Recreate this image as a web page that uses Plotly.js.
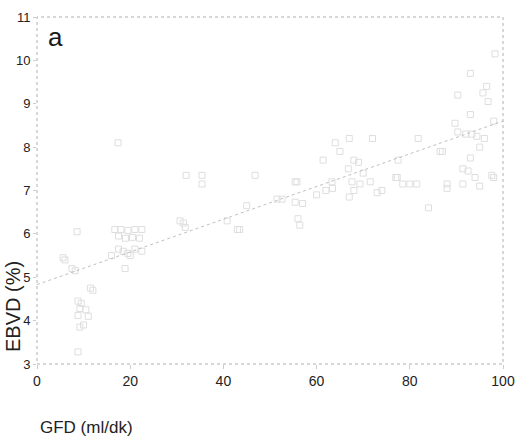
<!DOCTYPE html>
<html>
<head>
<meta charset="utf-8">
<script src="https://cdn.plot.ly/plotly-3.0.1.min.js"></script>
<style>html,body{margin:0;padding:0;background:#fff;}#chart{width:515px;height:444px;}</style>
</head>
<body>
<div id="chart"></div>
<script>
// GFD (ml/dk) values
const gfd = [
  5.6, 6.0, 7.5, 8.2, 8.6, 12.0, 11.5, 8.8, 9.5, 9.2, 10.5, 8.8, 11.0, 9.2, 10.0, 8.8,
  16.7, 18.0, 19.5, 21.0, 22.5, 17.5, 19.0, 20.5, 22.0, 17.4, 17.5, 18.5, 19.5, 21.0, 22.5, 18.9, 20.0, 16.0,
  31.4, 32.0, 35.4, 35.4, 30.7, 31.8, 40.8, 43.0, 43.5, 45.0, 46.8, 51.5, 52.6,
  55.4, 55.4, 57.0, 56.4, 56.0, 61.4, 63.4, 64.0, 65.0, 66.8, 67.0, 67.0, 67.6, 69.0, 69.3, 71.5, 72.0, 73.0, 77.0, 68.0, 70.0, 62.0, 60.0, 68.0, 74.0, 63.3, 55.8,
  77.3, 78.5, 80.0, 81.5, 81.8, 84.0, 86.5, 88.0, 88.0, 89.7, 90.3, 90.3, 91.4, 91.4, 92.5, 93.0, 93.0, 93.0, 93.3, 94.4, 95.0, 95.7, 96.0, 96.5, 96.8, 98.0, 98.0, 98.3, 92.0, 94.0, 95.0, 77.5, 87.0, 97.6
];
// EBVD (%) values
const ebvd = [
  5.45, 5.4, 5.2, 5.15, 6.05, 4.7, 4.75, 4.45, 4.4, 4.28, 4.25, 4.12, 4.1, 3.85, 3.9, 3.28,
  6.1, 6.1, 6.08, 6.1, 6.1, 5.95, 5.9, 5.92, 5.9, 8.1, 5.65, 5.6, 5.55, 5.65, 5.6, 5.2, 5.5, 5.5,
  6.25, 7.35, 7.35, 7.15, 6.3, 6.15, 6.3, 6.1, 6.1, 6.65, 7.35, 6.8, 6.8,
  7.2, 6.73, 6.7, 6.2, 6.35, 7.7, 7.05, 8.1, 7.9, 7.5, 8.2, 6.85, 7.2, 7.65, 7.15, 7.2, 8.2, 6.95, 7.3, 7.0, 7.4, 7.0, 6.9, 7.7, 7.0, 7.2, 7.2,
  7.3, 7.15, 7.15, 7.15, 8.2, 6.6, 7.9, 7.15, 7.05, 8.55, 9.2, 8.35, 7.5, 7.15, 7.45, 9.7, 8.75, 7.75, 8.3, 8.25, 8.0, 9.25, 8.2, 9.4, 9.05, 8.6, 7.3, 10.15, 8.3, 7.3, 7.1, 7.7, 7.9, 7.35
];
// regression line endpoints
const fitX = [0, 100];
const fitY = [4.83, 8.6];
const xTicks = [0, 20, 40, 60, 80, 100];
const yTicks = [3, 4, 5, 6, 7, 8, 9, 10, 11];

const font = "Liberation Sans, Arial, sans-serif";

const data = [
  {
    x: gfd, y: ebvd, type: 'scatter', mode: 'markers',
    marker: {symbol: 'square-open', size: 6, color: '#dedede', line: {width: 1, color: '#dedede'}},
    hoverinfo: 'x+y', showlegend: false, cliponaxis: false
  },
  {
    x: fitX, y: fitY, type: 'scatter', mode: 'lines',
    line: {color: '#c0c0c0', width: 1, dash: 'dot'},
    showlegend: false
  }
];

const layout = {
  width: 515, height: 444,
  margin: {l: 37, r: 12, t: 17, b: 80, pad: 0},
  paper_bgcolor: '#ffffff', plot_bgcolor: '#ffffff',
  font: {family: font, color: '#222222', size: 13},
  showlegend: false,
  xaxis: {
    range: [0, 100], tickvals: xTicks, ticktext: xTicks.map(String),
    showgrid: false, zeroline: false, showline: false,
    ticks: 'outside', ticklen: 4, tickcolor: '#cccccc', tickwidth: 1,
    tickfont: {family: font, size: 14, color: '#222'}
  },
  yaxis: {
    range: [3, 11], tickvals: yTicks, ticktext: yTicks.map(String),
    showgrid: false, zeroline: false, showline: false,
    ticks: 'outside', ticklen: 3, tickcolor: '#cccccc', tickwidth: 1,
    tickfont: {family: font, size: 13, color: '#222'}
  },
  shapes: [
    {type: 'rect', xref: 'paper', yref: 'paper', x0: 0, x1: 1, y0: 0, y1: 1,
     line: {color: '#b0b0b0', width: 1, dash: 'dot'}}
  ],
  annotations: [
    {text: 'a', xref: 'paper', yref: 'paper', x: 0.02, y: 0.99, xanchor: 'left', yanchor: 'top',
     showarrow: false, font: {family: font, size: 26, color: '#1a1a1a'}},
    {text: 'EBVD (%)', xref: 'paper', yref: 'paper', x: -37/466 + 13/466, y: (364-307)/347,
     xanchor: 'center', yanchor: 'middle', textangle: -90, showarrow: false,
     font: {family: font, size: 20, color: '#222'}},
    {text: 'GFD (ml/dk)', xref: 'paper', yref: 'paper', x: 1/466, y: -(427-364)/347,
     xanchor: 'left', yanchor: 'middle', showarrow: false,
     font: {family: font, size: 17, color: '#222'}}
  ]
};

Plotly.newPlot('chart', data, layout, {displayModeBar: false, staticPlot: true});
</script>
</body>
</html>
